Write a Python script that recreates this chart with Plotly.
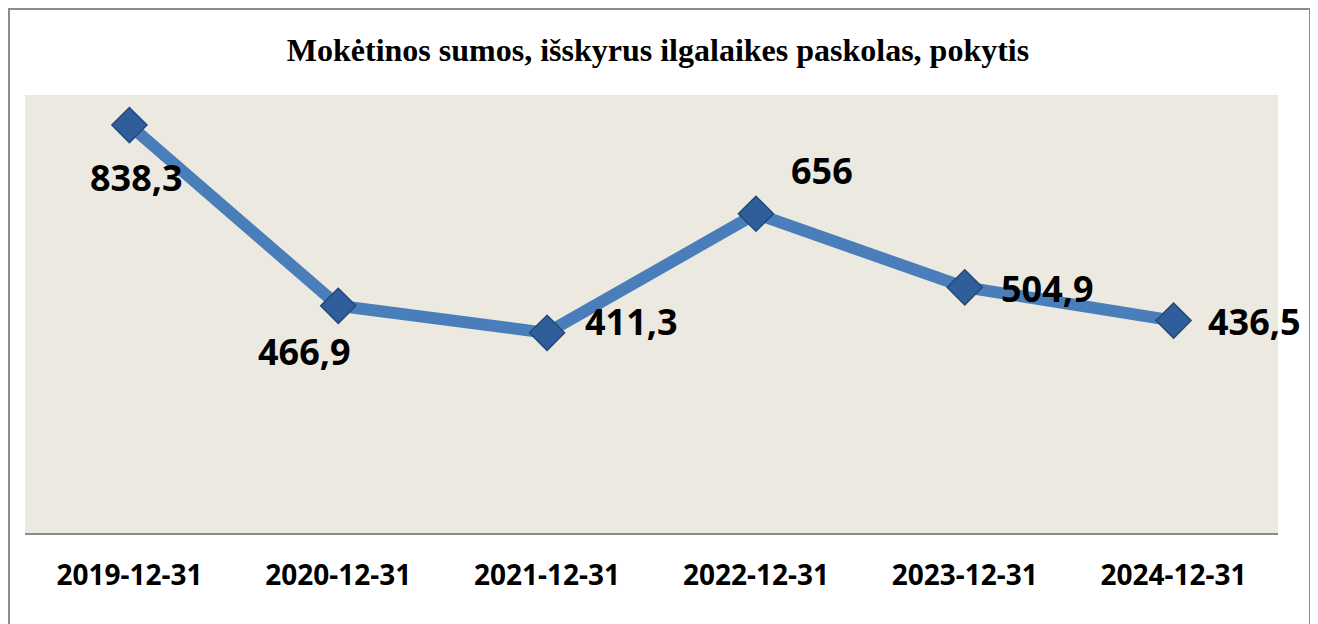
import plotly.graph_objects as go

categories = ["2019-12-31", "2020-12-31", "2021-12-31", "2022-12-31", "2023-12-31", "2024-12-31"]
values = [838.3, 466.9, 411.3, 656, 504.9, 436.5]
labels = ["838,3", "466,9", "411,3", "656", "504,9", "436,5"]
label_shift_x = [7, -34, 84, 66, 83, 81]
label_shift_y = [-52, -46, 11, 43, -1, -1]
title = "Mokėtinos sumos, išskyrus ilgalaikes paskolas, pokytis"

# page is offset by the 8px default body margin
OFF = 8
W, H = 1318 - OFF, 624 - OFF
plot_left, plot_top, plot_right, plot_bottom = 25, 95, 1278, 533  # page pixels
ml, mt = plot_left - OFF, plot_top - OFF
mr = W - ml - (plot_right - plot_left)
mb = H - mt - (plot_bottom - plot_top)
pw, ph = plot_right - plot_left, plot_bottom - plot_top

fig = go.Figure()
fig.add_trace(go.Scatter(
    x=categories, y=values, mode="lines+markers",
    line=dict(color="#4A7EBB", width=12),
    marker=dict(symbol="diamond", size=27, color="#2F5E9A",
                line=dict(color="#22497C", width=1.5)),
    showlegend=False, hoverinfo="skip",
))

for c, v, t, dx, dy in zip(categories, values, labels, label_shift_x, label_shift_y):
    fig.add_annotation(x=c, y=v, xref="x", yref="y", text=t, showarrow=False,
                       xshift=dx, yshift=dy,
                       font=dict(family="Noto Sans", size=36, color="#000000", weight="bold"))

# outer chart border (page pixels -> paper fractions)
fig.add_shape(type="rect", xref="paper", yref="paper",
              x0=(OFF + 1 - plot_left) / pw, x1=(1310 - plot_left) / pw,
              y0=(plot_bottom - 640) / ph, y1=(plot_bottom - 9) / ph,
              line=dict(color="#8C8C8C", width=2), layer="below")

fig.update_layout(
    width=W, height=H,
    margin=dict(l=ml, r=mr, t=mt, b=mb),
    paper_bgcolor="#FFFFFF",
    plot_bgcolor="#ECEAE0",
    title=dict(text="<b>" + title + "</b>", x=(658 - plot_left) / pw, xref="paper",
               xanchor="center",
               y=1 - (50 - OFF) / H, yanchor="middle",
               font=dict(family="Liberation Serif", size=32, color="#000000")),
    xaxis=dict(type="category", range=[-0.5, len(categories) - 0.5],
               showgrid=False, zeroline=False,
               showline=True, linecolor="#8C8C8C", linewidth=2,
               ticks="", ticklabelstandoff=16,
               tickfont=dict(family="Noto Sans", size=28, color="#000000", weight="bold"),
               fixedrange=True),
    yaxis=dict(range=[0, 900], showgrid=False, zeroline=False, showline=False,
               showticklabels=False, ticks="", fixedrange=True),
)

fig.write_html("out.html")
